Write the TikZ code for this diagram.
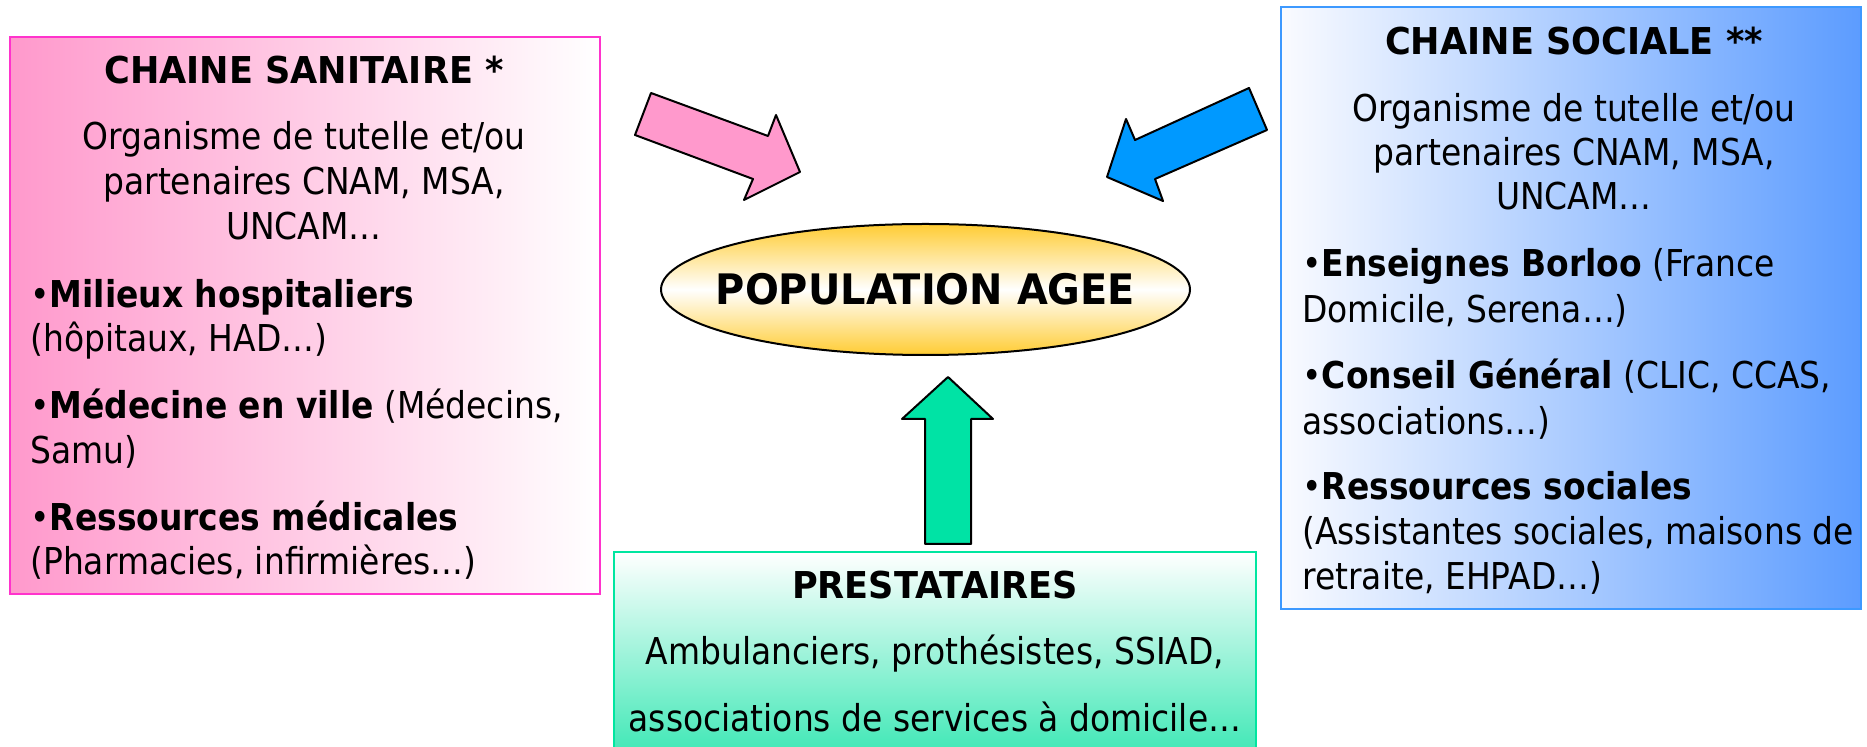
\documentclass[tikz,border=0pt]{standalone}
\usepackage{fontspec}
\setmainfont{DejaVu Sans}[FakeStretch=0.89]
\newfontfamily\headfont{DejaVu Sans}[FakeStretch=0.95]
\newfontfamily\itemfont{DejaVu Sans}[FakeStretch=0.89]
\usetikzlibrary{shapes.geometric}

\definecolor{sanitaireline}{HTML}{FF33CC}
\definecolor{sanitairefill}{HTML}{FF99CC}
\definecolor{socialeline}{HTML}{3D99FF}
\definecolor{socialeleft}{HTML}{FAFBFF}
\definecolor{socialeright}{HTML}{5C9CFF}
\definecolor{prestaline}{HTML}{00E6A0}
\definecolor{prestafill}{HTML}{30E6B0}
\definecolor{ageefill}{HTML}{FFCC33}
\definecolor{arrowpink}{HTML}{FF99CC}
\definecolor{arrowblue}{HTML}{0099FF}
\definecolor{arrowgreen}{HTML}{00E3A5}

\newcommand{\bolditem}[1]{{\itemfont\bfseries #1}}

\tikzset{
  boxline/.style={line width=1.25pt},
  blockarrow/.style={draw=black, line width=1pt, line join=round},
  linetext/.style={inner sep=0pt, font=\fontsize{18.5}{22}\selectfont},
  headtext/.style={inner sep=0pt, font=\fontsize{18.5}{22}\selectfont\headfont\bfseries},
}

\begin{document}
\begin{tikzpicture}[x=0.5pt,y=-0.5pt]
            \useasboundingbox (0,0) rectangle (1867,747);
            \clip (0,0) rectangle (1867,747);

            % Box of the chaine sanitaire
            \draw [boxline, draw=sanitaireline, left color=sanitairefill, right color=white] (10,37) rectangle (600,594);%

            % Box of the chaine sociale
            \draw [boxline, draw=socialeline, left color=socialeleft, right color=socialeright] (1281,7) rectangle (1861,609);%

            % Box of the prestataires
            \draw [boxline, draw=prestaline, top color=white, bottom color=prestafill] (614,552) rectangle (1256,770);%

            % Arrow from chaine sanitaire
            \draw [blockarrow, fill=arrowpink] (651,93) -- (768,136) -- (776,115) -- (800,172) -- (744,200) -- (753,179) -- (635,135) -- cycle;%

            % Arrow from chaine sociale
            \draw [blockarrow, fill=arrowblue] (1249,88) -- (1267,130) -- (1155,179) -- (1163,201) -- (1107,177) -- (1126,119) -- (1135,140) -- cycle;%

            % Arrow from prestataires
            \draw [blockarrow, fill=arrowgreen] (948,377) -- (993,419) -- (971,419) -- (971,544) -- (925,544) -- (925,419) -- (902,419) -- cycle;%

            % Population agee in the middle
            \draw [line width=1pt, top color=ageefill, bottom color=ageefill, middle color=white] (925.5,289.5) ellipse [x radius=264.5, y radius=65.5];%
            \node (agee) [inner sep=0pt, font=\fontsize{21}{25}\selectfont\headfont\bfseries] at (925.5,289.5) {POPULATION AGEE};%

            % Texts of the chaine sanitaire
            \draw (304,84) node (santitle) [headtext, anchor=base] {CHAINE SANITAIRE *};%
            \draw (304,150) node (sanorga) [linetext, anchor=base] {Organisme de tutelle et/ou};%
            \draw (304,195) node (sanpart) [linetext, anchor=base] {partenaires CNAM, MSA,};%
            \draw (304,240) node (sanuncam) [linetext, anchor=base] {UNCAM…};%
            \draw (30,308) node (sanmil) [linetext, anchor=base west] {•\bolditem{Milieux hospitaliers}};%
            \draw (30,352) node (sanhop) [linetext, anchor=base west] {(hôpitaux, HAD…)};%
            \draw (30,419) node (sanmed) [linetext, anchor=base west] {•\bolditem{Médecine en ville} (Médecins,};%
            \draw (30,464) node (sansamu) [linetext, anchor=base west] {Samu)};%
            \draw (30,531) node (sanres) [linetext, anchor=base west] {•\bolditem{Ressources médicales}};%
            \draw (30,575) node (sanpharm) [linetext, anchor=base west] {(Pharmacies, infirmières…)};%

            % Texts of the chaine sociale
            \draw (1574,55) node (soctitle) [headtext, anchor=base] {CHAINE SOCIALE **};%
            \draw (1574,122) node (socorga) [linetext, anchor=base] {Organisme de tutelle et/ou};%
            \draw (1574,166) node (socpart) [linetext, anchor=base] {partenaires CNAM, MSA,};%
            \draw (1574,210) node (socuncam) [linetext, anchor=base] {UNCAM…};%
            \draw (1302,277) node (socens) [linetext, anchor=base west] {•\bolditem{Enseignes Borloo} (France};%
            \draw (1302,323) node (socdom) [linetext, anchor=base west] {Domicile, Serena…)};%
            \draw (1302,389) node (soccons) [linetext, anchor=base west] {•\bolditem{Conseil Général} (CLIC, CCAS,};%
            \draw (1302,435) node (socasso) [linetext, anchor=base west] {associations…)};%
            \draw (1302,500) node (socres) [linetext, anchor=base west] {•\bolditem{Ressources sociales}};%
            \draw (1302,545) node (socassi) [linetext, anchor=base west] {(Assistantes sociales, maisons de};%
            \draw (1302,590) node (socretr) [linetext, anchor=base west] {retraite, EHPAD…)};%

            % Texts of the prestataires
            \draw (935,599) node (pretitle) [headtext, anchor=base] {PRESTATAIRES};%
            \draw (935,664) node (preamb) [linetext, anchor=base] {Ambulanciers, prothésistes, SSIAD,};%
            \draw (935,731) node (preasso) [linetext, anchor=base] {associations de services à domicile…};%
\end{tikzpicture}
\end{document}
